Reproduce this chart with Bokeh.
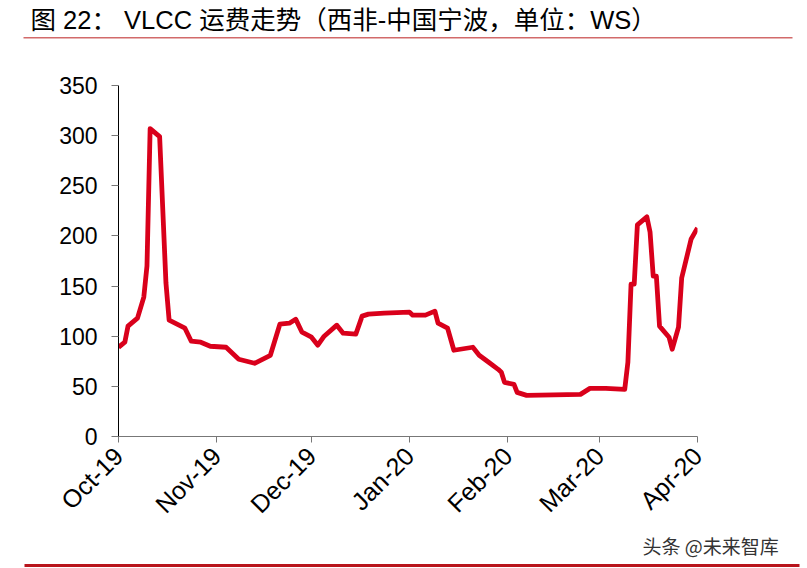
import pandas as pd
from bokeh.plotting import figure
from bokeh.layouts import column
from bokeh.models import Range1d, FixedTicker, DatetimeTickFormatter, Label, BoxAnnotation
from bokeh.embed import file_html
from bokeh.resources import INLINE
from math import pi

# ---- data ----
dates = ["2019-10-01", "2019-10-03", "2019-10-04", "2019-10-07", "2019-10-09", "2019-10-10",
         "2019-10-11", "2019-10-14", "2019-10-16", "2019-10-17", "2019-10-22", "2019-10-24",
         "2019-10-27", "2019-10-30",
         "2019-11-04", "2019-11-08", "2019-11-13", "2019-11-18", "2019-11-21", "2019-11-24",
         "2019-11-26", "2019-11-28",
         "2019-12-01", "2019-12-03", "2019-12-05", "2019-12-09", "2019-12-11", "2019-12-15",
         "2019-12-17", "2019-12-19", "2019-12-24",
         "2020-01-01", "2020-01-02", "2020-01-06", "2020-01-09", "2020-01-10", "2020-01-13",
         "2020-01-15", "2020-01-17", "2020-01-21", "2020-01-23", "2020-01-26", "2020-01-29",
         "2020-01-30", "2020-01-31",
         "2020-02-03", "2020-02-04", "2020-02-07", "2020-02-24", "2020-02-27",
         "2020-03-03", "2020-03-09", "2020-03-10", "2020-03-11", "2020-03-12", "2020-03-13",
         "2020-03-16", "2020-03-17", "2020-03-18", "2020-03-19", "2020-03-20", "2020-03-23",
         "2020-03-24", "2020-03-26", "2020-03-27", "2020-03-30",
         "2020-04-01"]
ws_rate = [89, 94, 110, 118, 139, 170, 307, 299, 153, 116, 108, 95, 94, 90,
           89, 77, 73, 81, 112, 113, 117, 104,
           99, 91, 100, 111, 103, 102, 120, 122, 123,
           124, 121, 121, 125, 113, 108, 86, 87, 89, 81, 74, 67, 64, 54,
           52, 44, 41, 42, 48,
           48, 47, 74, 152, 152, 211, 219, 204, 160, 160, 110, 99, 87, 109, 158, 197,
           208]
tick_dates = ["2019-10-01", "2019-11-01", "2019-12-01", "2020-01-01",
              "2020-02-01", "2020-03-01", "2020-04-01"]
y_ticks = [0, 50, 100, 150, 200, 250, 300, 350]

title_text = "图 22：  VLCC 运费走势（西非-中国宁波，单位：WS）"
watermark_text = "头条 @未来智库"

LATIN = "Liberation Sans, Noto Sans CJK SC"
W = 807
TOP_H, MAIN_H, BOT_H = 46, 485, 37


def bare(h, y0):
    f = figure(width=W, height=h, output_backend="svg", toolbar_location=None,
               x_range=Range1d(0, W), y_range=Range1d(y0 + h, y0),
               x_axis_location=None, y_axis_location=None,
               min_border=0, min_border_left=0, min_border_right=0,
               min_border_top=0, min_border_bottom=0)
    f.frame_align = False
    f.xgrid.visible = False
    f.ygrid.visible = False
    f.outline_line_color = None
    f.border_fill_color = "white"
    f.background_fill_color = "white"
    return f


# ---- header: title and rule ----
top = bare(TOP_H, 0)
top.add_layout(Label(x=30, y=19, text=title_text, text_font=LATIN, text_font_size="25.5px",
                     text_color="#000000", text_baseline="middle", text_align="left"))
top.add_layout(BoxAnnotation(left=23, right=792, top=36.5, bottom=38, fill_color="#D26A6A",
                             fill_alpha=1, line_color=None))

# ---- main chart ----
x = pd.to_datetime(dates)
p = figure(width=W, height=MAIN_H, output_backend="svg", toolbar_location=None,
           x_axis_type="datetime",
           x_range=Range1d(pd.Timestamp(tick_dates[0]), pd.Timestamp(tick_dates[-1])),
           y_range=Range1d(0, 350),
           min_border_left=118, min_border_right=110, min_border_top=39, min_border_bottom=93)
p.frame_align = False
p.line(x, ws_rate, line_color="#D9001B", line_width=4.8, line_join="round")
p.xgrid.visible = False
p.ygrid.visible = False
p.outline_line_color = None
p.background_fill_color = "white"
p.border_fill_color = "white"

xa = p.xaxis[0]
xa.ticker = FixedTicker(ticks=[pd.Timestamp(d).value / 1e6 for d in tick_dates])
xa.formatter = DatetimeTickFormatter(days="%b-%y", months="%b-%y", years="%b-%y",
                                     hours="%b-%y", minutes="%b-%y")
xa.major_label_orientation = pi / 4
xa.major_label_text_font = LATIN
xa.major_label_text_font_size = "25px"
xa.major_label_text_color = "#000000"
xa.axis_line_color = "#777777"
xa.major_tick_line_color = "#777777"
xa.major_tick_out = 6
xa.major_tick_in = 0
xa.minor_tick_line_color = None
xa.major_label_standoff = 9

ya = p.yaxis[0]
ya.ticker = FixedTicker(ticks=y_ticks)
ya.major_label_text_font = LATIN
ya.major_label_text_font_size = "23px"
ya.major_label_text_color = "#000000"
ya.axis_line_color = "#000000"
ya.major_tick_line_color = "#777777"
ya.major_tick_out = 7
ya.major_tick_in = 0
ya.minor_tick_line_color = None
ya.major_label_standoff = 14

# ---- footer: watermark and rule ----
bot = bare(BOT_H, TOP_H + MAIN_H)
bot.add_layout(Label(x=642, y=545, text=watermark_text, text_font="Noto Sans CJK SC",
                     text_font_size="19px", text_color="#333333",
                     text_baseline="middle", text_align="left"))
bot.add_layout(BoxAnnotation(left=24, right=799, top=563.5, bottom=566.5,
                             fill_color="#B8141C", fill_alpha=1, line_color=None))

open("out.html", "w").write(file_html(column(top, p, bot, spacing=0), INLINE))
